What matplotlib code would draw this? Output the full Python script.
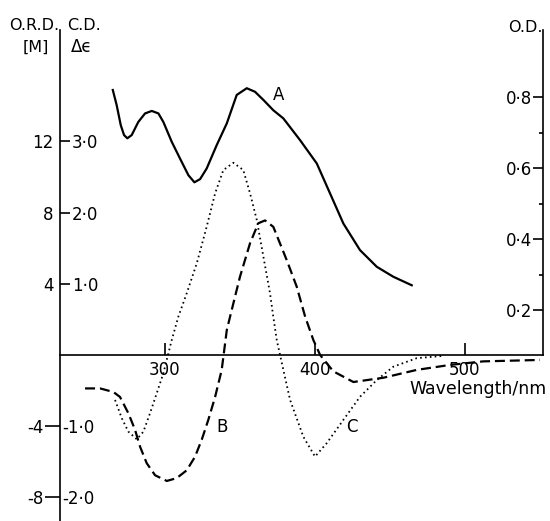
import numpy as np
import matplotlib.pyplot as plt

plt.rcParams['font.family'] = ['DejaVu Sans']

# curve A: absorption, O.D. (solid)
a_nm = [265.4, 268.0, 270.7, 272.9, 275.1, 278.0, 282.4, 286.9, 291.4, 295.8, 299.1,
        304.7, 310.2, 315.8, 319.8, 323.6, 328.0, 334.7, 341.4, 348.0, 354.7, 360.2,
        365.8, 372.4, 379.1, 390.2, 401.4, 410.2, 419.1, 430.2, 441.4, 452.4, 464.7]
a_od = [0.820, 0.777, 0.721, 0.693, 0.684, 0.693, 0.730, 0.754, 0.761, 0.754, 0.730,
        0.674, 0.627, 0.580, 0.560, 0.569, 0.599, 0.665, 0.726, 0.806, 0.825, 0.815,
        0.792, 0.763, 0.740, 0.679, 0.613, 0.529, 0.444, 0.369, 0.322, 0.294, 0.270]

# curve B: C.D., delta epsilon (dashed)
b_nm = [246.9, 256.9, 265.8, 270.2, 275.8, 280.2, 283.6, 288.0, 293.6, 301.4, 308.0,
        314.7, 320.2, 324.7, 329.1, 333.6, 338.0, 341.4, 343.6, 350.2, 356.9, 362.4,
        366.9, 372.4, 381.4, 388.0, 393.6, 399.1, 403.6, 412.4, 425.8, 445.8, 468.0,
        490.2, 512.4, 550.2]
b_cd = [-0.47, -0.47, -0.52, -0.59, -0.82, -1.05, -1.29, -1.52, -1.69, -1.77, -1.73,
        -1.62, -1.43, -1.19, -0.91, -0.59, -0.21, 0.35, 0.54, 1.10, 1.57, 1.85,
        1.89, 1.80, 1.33, 0.96, 0.54, 0.21, 0.0, -0.23, -0.38, -0.32, -0.21,
        -0.14, -0.09, -0.07]

# curve C: O.R.D., [M] (dotted)
c_nm = [266.9, 271.4, 275.8, 281.4, 285.8, 290.2, 294.7, 299.1, 304.7, 309.1, 314.7,
        321.4, 328.0, 333.6, 339.1, 345.8, 352.4, 356.9, 361.4, 365.8, 370.2, 372.4,
        374.7, 379.1, 383.6, 392.4, 400.2, 408.0, 419.1, 430.2, 441.4, 452.4, 468.0,
        485.8]
c_ord = [-2.53, -3.56, -4.31, -4.74, -4.31, -3.28, -2.15, -1.03, 0.84, 2.15, 3.47,
         5.15, 7.21, 9.08, 10.39, 10.80, 10.39, 9.08, 7.58, 5.52, 3.47, 2.15,
         0.84, -0.84, -2.53, -4.59, -5.71, -4.96, -3.65, -2.35, -1.41, -0.66, -0.18,
         -0.05]

x_ticks = [300, 400, 500]
ord_pos = [12, 8, 4]
ord_neg = [-4, -8]
cd_pos = [1.0, 2.0, 3.0]
cd_neg = [-1.0, -2.0]
od_major = [0.2, 0.4, 0.6, 0.8]
od_minor = [0.3, 0.5, 0.7]


def dot(v):
    return f"{v:.1f}".replace('.', '\u00b7')


fig = plt.figure(figsize=(5.5, 5.21), dpi=100)
ax = fig.add_axes([60 / 550, 0, 483 / 550, 491 / 521])
ax.set_xlim(230.2, 552.2)
ax.set_ylim(-9.33, 18.26)

for s in ['top', 'right']:
    ax.spines[s].set_visible(False)
ax.spines['bottom'].set_position(('data', 0))
for s in ['left', 'bottom']:
    ax.spines[s].set_linewidth(1.2)

ax.set_xticks(x_ticks, [str(v) for v in x_ticks])
ax.tick_params(axis='x', direction='in', length=9, width=1.2, pad=4, labelsize=12)

# O.R.D. scale: labels left of the spine
ax.set_yticks(ord_neg, [str(v) for v in ord_neg])
ax.set_yticks(ord_pos, [str(v) for v in ord_pos], minor=True)
ax.tick_params(axis='y', which='major', direction='out', length=10.5, width=1.2, pad=1, labelsize=12)
ax.tick_params(axis='y', which='minor', length=0, pad=4.5, labelsize=12)

# C.D. scale: labels right of the same spine
cd = ax.twinx()
cd.set_ylim(-9.33 / 4, 18.26 / 4)
for s in cd.spines.values():
    s.set_visible(False)
cd.spines['right'].set_position(('axes', 0))
cd.set_yticks(cd_pos, [dot(v) for v in cd_pos])
cd.set_yticks(cd_neg, [dot(v) for v in cd_neg], minor=True)
cd.tick_params(axis='y', which='major', direction='out', length=7, width=1.2, pad=1.5, labelsize=12)
cd.tick_params(axis='y', which='minor', length=0, pad=1.5, labelsize=12)

# O.D. scale on the right
od = ax.twinx()
od.set_ylim(-0.394, 0.989)
for s in od.spines.values():
    s.set_visible(False)
od.yaxis.set_ticks_position('left')
od.spines['left'].set_visible(True)
od.spines['left'].set_position(('axes', 1))
od.spines['left'].set_bounds(0.0732, 0.989)
od.spines['left'].set_linewidth(1.2)
od.set_yticks(od_major, [dot(v) for v in od_major])
od.set_yticks(od_minor, minor=True)
od.tick_params(axis='y', which='major', direction='out', length=7, width=1.2, pad=1, labelsize=12)
od.tick_params(axis='y', which='minor', direction='out', length=3, width=1.2)

od.plot(a_nm, a_od, color='black', lw=1.6, solid_joinstyle='round')
cd.plot(b_nm, b_cd, color='black', lw=1.6, ls=(0, (4.5, 2.2)))
ax.plot(c_nm, c_ord, color='black', lw=1.3, ls=(0, (0.9, 1.8)))

od.text(375.6, 0.806, 'A', fontsize=12, ha='center', va='center')
cd.text(338.2, -1.01, 'B', fontsize=12, ha='center', va='center')
cd.text(424.9, -1.01, 'C', fontsize=12, ha='center', va='center')

fig.text(34 / 550, 1 - 26 / 521, 'O.R.D.', fontsize=11.5, ha='center', va='center')
fig.text(36 / 550, 1 - 47 / 521, '[M]', fontsize=11.5, ha='center', va='center')
fig.text(84 / 550, 1 - 26 / 521, 'C.D.', fontsize=11.5, ha='center', va='center')
fig.text(82 / 550, 1 - 47 / 521, '\u0394\u03f5', fontsize=12, ha='center', va='center')
fig.text(525 / 550, 1 - 27 / 521, 'O.D.', fontsize=11.5, ha='center', va='center')
fig.text(478 / 550, 1 - 389 / 521, 'Wavelength/nm', fontsize=12.5, ha='center', va='center')

fig.savefig('out.png', dpi=100)
